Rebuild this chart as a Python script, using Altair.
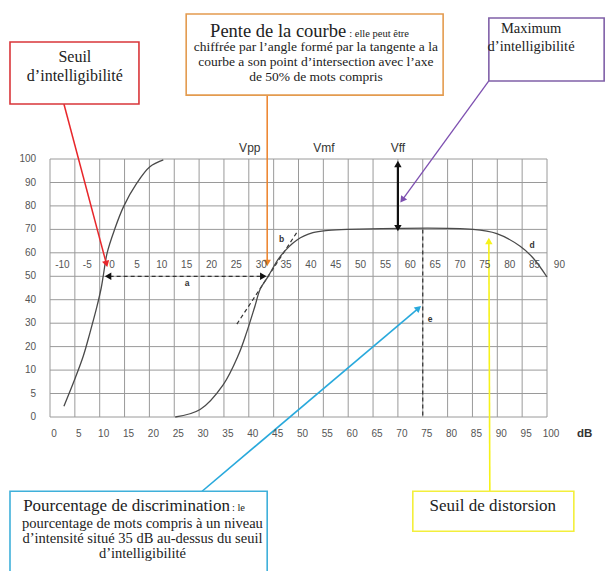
import altair as alt
import pandas as pd

# ---------------- axes ----------------
X_TICKS = list(range(0, 101, 5))
Y_TICKS = [0, 5, 10, 20, 30, 40, 50, 60, 70, 80, 90, 100]
Y_RANGE = [258, 234.5, 211.1, 187.6, 164.2, 140.7, 117.3, 93.8, 70.4, 46.9, 23.5, 0]

# upper (dB HL) scale printed inside the grid
TOP_LABELS = ["-10", "-5", "0", "5", "10", "15", "20", "25", "30", "35", "40",
              "45", "50", "55", "60", "65", "70", "75", "80", "85", "90"]
TOP_POS = [2.5, 7.5, 12.5, 17.5, 22.5, 27.5, 32.5, 37.5, 42.5, 47.5, 52.5,
           57.5, 62.5, 67.5, 72.5, 77.5, 82.5, 87.5, 92.5, 97.5, 102.5]
TOP_Y = [55] * len(TOP_LABELS)

# ---------------- curves ----------------
normal_x = [2.8, 5.0, 6.7, 8.05, 9.4, 10.3, 10.7, 11.5, 13.0, 14.8, 17.4, 20.1, 22.8]
normal_y = [2.3, 8.1, 16.0, 26.0, 36.7, 45.0, 50, 60, 70, 79.7, 89.5, 96.7, 99.6]

impaired_x = [25.2, 30.2, 34.8, 37.9, 39.6, 41.2, 42.3, 43.9, 46.3, 49.7, 52.9,
              56.0, 59.8, 85.1, 89.9, 94.6, 97.2, 100]
impaired_y = [0, 1.6, 6.8, 16.4, 26.3, 37.0, 44.6, 50, 58.4, 65.5, 68.6,
              69.6, 70, 70, 68.2, 62.8, 57.8, 49.7]

# ---------------- dashed constructions ----------------
dash_x = [12.0, 37.6, 75.0]
dash_y = [50, 29.6, 70]
dash_x2 = [42.6, 49.7, 75.0]
dash_y2 = [50, 68.8, 0]

letters = ["a", "b", "d", "e"]
letters_x = [27.6, 46.6, 97.0, 76.5]
letters_y = [47.2, 65.8, 63.3, 31.8]

marker_names = ["Vpp", "Vmf", "Vff"]
marker_x = [40.2, 55.1, 70.0]
marker_y = [104.6, 104.6, 104.6]

# ---------------- annotation boxes ----------------
box_x = [-8.05, 27.4, 88.3, -8.05, 73.0]
box_x2 = [17.9, 79.1, 111.5, 43.7, 105.4]
box_y = [123.4, 127.2, 133.2, -15.8, -15.8]
box_y2 = [149.8, 161.7, 160.0, -35.0, -24.3]
box_col = ["#d9363a", "#e39b4f", "#8060a8", "#3fb0da", "#f3ef3c"]

# leader lines (from box to arrow head)
lead_x = [2.8, 43.7, 88.3, 30.6, 88.5, 70.0]
lead_y = [123.4, 127.2, 133.2, -15.8, -15.8, 97.4]
lead_x2 = [11.3, 43.7, 71.0, 74.0, 88.3, 70.0]
lead_y2 = [55.7, 56.1, 82.9, 36.1, 64.6, 71.0]
lead_col = ["#e8262a", "#ec8128", "#7d4fb0", "#29a9dc", "#f6f21a", "#111111"]
lead_w = [1.5, 1.5, 1.3, 1.6, 1.6, 2.2]

# arrow heads
head_x = [11.3, 43.7, 71.0, 74.0, 88.3, 70.0, 70.0, 11.9, 42.7]
head_y = [55.7, 56.1, 82.9, 36.1, 64.6, 97.4, 71.0, 50, 50]
head_ang = [165, 180, 216, 50, 0, 0, 180, 270, 90]
head_col = ["#e8262a", "#ec8128", "#7d4fb0", "#29a9dc", "#f6f21a",
            "#111111", "#111111", "#111111", "#111111"]

# annotation texts
red_txt_lines = ["Seuil", "d\u2019intelligibilit\u00e9"]
red_txt_x = [5.0, 5.0]
red_txt_y = [143.4, 135.3]

yellow_txt_lines = ["Seuil de distorsion"]
yellow_txt_x = [89.1]
yellow_txt_y = [-19.0]

max_txt = ["Maximum", "d\u2019intelligibilit\u00e9"]
max_x = [96.8, 96.8]
max_y = [155.3, 147.7]

head_txt = ["Pente de la courbe", "Pourcentage de discrimination"]
head_txt_x = [59.6, 36.2]
head_txt_y = [152.0, -20.0]
head_txt_size = [18.5, 17]
tail_txt = [": elle peut \u00eatre", ": le"]
tail_txt_x = [60.2, 36.6]

orange_lines = ["chiffr\u00e9e par l\u2019angle form\u00e9 par la tangente a la",
                "courbe a son point d\u2019intersection avec l\u2019axe",
                "de 50% de mots compris"]
orange_x = [53.5, 53.5, 53.5]
orange_y = [147.5, 141.1, 134.7]

cyan_lines = ["pourcentage de mots compris \u00e0 un niveau",
              "d\u2019intensit\u00e9 situ\u00e9 35 dB au-dessus du seuil",
              "d\u2019intelligibilit\u00e9"]
cyan_x = [18.6, 18.6, 18.6]
cyan_y = [-22.7, -25.9, -29.1]

# ---------------- chart ----------------
SANS = "Liberation Sans"
SERIF = "Liberation Serif"
GRID = "#9a9a9a"

xs = alt.Scale(domain=[0, 100], nice=False, zero=False)
ys = alt.Scale(domain=Y_TICKS, range=Y_RANGE, nice=False, zero=False)


def X(f="x"):
    return alt.X(f + ":Q", scale=xs, axis=None)


def Y(f="y"):
    return alt.Y(f + ":Q", scale=ys, axis=None)


# grid (drawn from the tick lists)
vgrid = pd.DataFrame({"x": X_TICKS, "y": [0] * len(X_TICKS), "y2": [100] * len(X_TICKS)})
hgrid = pd.DataFrame({"y": Y_TICKS, "x": [0] * len(Y_TICKS), "x2": [100] * len(Y_TICKS)})
vgrid_layer = alt.Chart(vgrid).mark_rule(color=GRID, strokeWidth=1, clip=False).encode(
    x=X(), y=Y(), y2="y2:Q")
hgrid_layer = alt.Chart(hgrid).mark_rule(color=GRID, strokeWidth=1, clip=False).encode(
    y=Y(), x=X(), x2="x2:Q")

curves = pd.DataFrame({
    "x": normal_x + impaired_x,
    "y": normal_y + impaired_y,
    "s": ["normal"] * len(normal_x) + ["impaired"] * len(impaired_x),
})
curve_layer = alt.Chart(curves).mark_line(
    interpolate="catmull-rom", color="#4a4a4a", strokeWidth=1.3, clip=False
).encode(x=X(), y=Y(), detail="s:N", order="x:Q")

dash_df = pd.DataFrame({"x": dash_x, "y": dash_y, "x2": dash_x2, "y2": dash_y2})
dash_layer = alt.Chart(dash_df).mark_rule(
    color="#333333", strokeWidth=1.2, strokeDash=[4, 3], clip=False
).encode(x=X(), y=Y(), x2="x2:Q", y2="y2:Q")

box_df = pd.DataFrame({"x": box_x, "x2": box_x2, "y": box_y, "y2": box_y2, "c": box_col})
box_layer = alt.Chart(box_df).mark_rect(
    fill="white", strokeWidth=1.6, clip=False
).encode(x=X(), x2="x2:Q", y=Y(), y2="y2:Q", stroke=alt.Stroke("c:N", scale=None))

lead_df = pd.DataFrame({"x": lead_x, "y": lead_y, "x2": lead_x2, "y2": lead_y2,
                        "c": lead_col, "w": lead_w})
lead_layer = alt.Chart(lead_df).mark_rule(clip=False).encode(
    x=X(), y=Y(), x2="x2:Q", y2="y2:Q",
    color=alt.Color("c:N", scale=None),
    strokeWidth=alt.StrokeWidth("w:Q", scale=None),
)

head_df = pd.DataFrame({"x": head_x, "y": head_y, "a": head_ang, "c": head_col})
head_layer = alt.Chart(head_df).mark_point(
    shape="triangle", filled=True, size=55, opacity=1, clip=False
).encode(
    x=X(), y=Y(),
    angle=alt.Angle("a:Q", scale=None),
    color=alt.Color("c:N", scale=None),
)


def text_layer(xv, yv, tv, **kw):
    df = pd.DataFrame({"x": xv, "y": yv, "t": tv})
    return alt.Chart(df).mark_text(clip=False, **kw).encode(x=X(), y=Y(), text="t:N")


bottom_labels = text_layer([v + 0.8 for v in X_TICKS], [-3.6] * len(X_TICKS),
                           [str(v) for v in X_TICKS], font=SANS, fontSize=10,
                           color="#555555", baseline="middle", align="center")
left_labels = text_layer([-2.8] * len(Y_TICKS), Y_TICKS, [str(v) for v in Y_TICKS],
                         font=SANS, fontSize=10, color="#555555", baseline="middle",
                         align="right")
top_axis = text_layer(TOP_POS, TOP_Y, TOP_LABELS, font=SANS, fontSize=10,
                      color="#555555", baseline="middle", align="center")
markers = text_layer(marker_x, marker_y, marker_names, font=SANS, fontSize=12,
                     color="#333333", baseline="middle", align="center")
letter_layer = text_layer(letters_x, letters_y, letters, font=SANS, fontSize=8.5,
                          fontWeight="bold", color="#333333", baseline="middle",
                          align="center")
db_layer = text_layer([107.6], [-3.6], ["dB"], font=SANS, fontSize=11.5,
                      fontWeight="bold", color="#333333", baseline="middle",
                      align="center")

red_txt = text_layer(red_txt_x, red_txt_y, red_txt_lines, font=SERIF, fontSize=16,
                     color="#222222", baseline="middle", align="center")
yellow_txt = text_layer(yellow_txt_x, yellow_txt_y, yellow_txt_lines, font=SERIF,
                        fontSize=17, color="#222222", baseline="middle", align="center")
max_layer = text_layer(max_x, max_y, max_txt, font=SERIF, fontSize=14.5,
                       color="#222222", baseline="middle", align="center")
pente_txt = text_layer(head_txt_x[:1], head_txt_y[:1], head_txt[:1], font=SERIF,
                       fontSize=head_txt_size[0], color="#222222",
                       baseline="alphabetic", align="right")
pourc_txt = text_layer(head_txt_x[1:], head_txt_y[1:], head_txt[1:], font=SERIF,
                       fontSize=head_txt_size[1], color="#222222",
                       baseline="alphabetic", align="right")
tail_layer_txt = text_layer(tail_txt_x, head_txt_y, tail_txt, font=SERIF,
                            fontSize=10.5, color="#222222", baseline="alphabetic",
                            align="left")
orange_layer = text_layer(orange_x, orange_y, orange_lines, font=SERIF,
                          fontSize=13.5, color="#222222", baseline="middle",
                          align="center")
cyan_layer = text_layer(cyan_x, cyan_y, cyan_lines, font=SERIF, fontSize=14.5,
                        color="#222222", baseline="middle", align="center")

chart = alt.layer(
    vgrid_layer, hgrid_layer, dash_layer, curve_layer, lead_layer, head_layer,
    box_layer, bottom_labels, left_labels, top_axis, markers, letter_layer,
    db_layer, red_txt, yellow_txt, max_layer, pente_txt, pourc_txt,
    tail_layer_txt, orange_layer, cyan_layer,
).properties(
    width=497, height=258,
    padding={"left": 42, "top": 151, "right": 59, "bottom": 154},
    autosize=alt.AutoSizeParams(type="none"),
    background="white",
).configure_view(stroke=None)

chart.save("out.html", embed_options={"renderer": "svg", "actions": False})
